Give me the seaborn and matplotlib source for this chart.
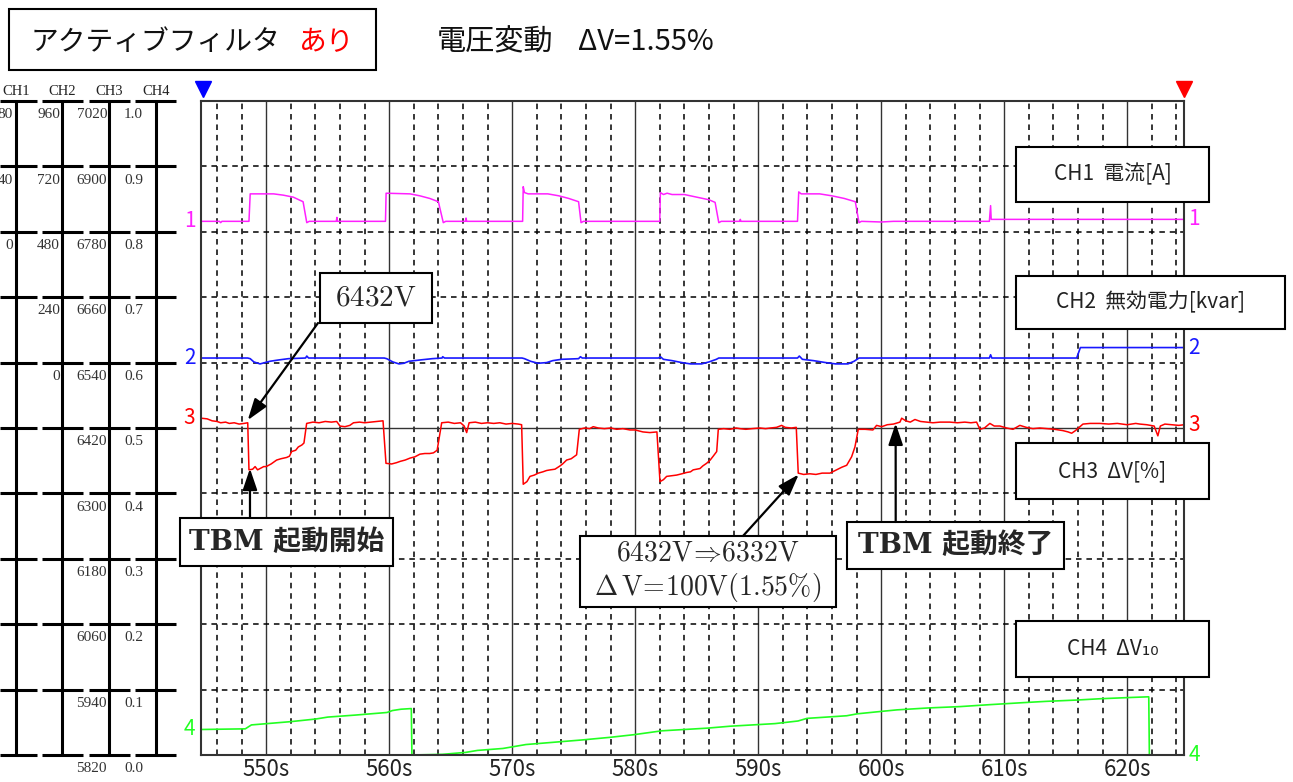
import seaborn as sns
import matplotlib.pyplot as plt
from matplotlib.patches import Rectangle

W, H = 1293, 782

# --- recorder data: time [s] vs normalised screen value (0..1 = 10 divisions)
# CH1 current (magenta)
ch1_t = [544.70, 546.2, 546.3, 546.4, 548.6, 548.7, 550.6, 551.4, 552.2, 553.0, 553.3, 553.5,
         555.7, 555.75, 555.8, 559.7, 559.75, 561.7, 562.5, 563.3, 564.0, 564.4, 564.6,
         566.2, 566.25, 566.3, 570.85, 570.9, 571.0, 571.3, 572.9, 573.8, 574.6, 575.4, 575.6, 575.8,
         582.0, 582.05, 582.3, 582.6, 583.0, 584.0, 585.0, 586.0, 586.5, 586.8, 587.0,
         588.5, 588.55, 588.6, 593.2, 593.3, 593.5, 595.0, 596.0, 597.0, 597.9, 598.2, 598.4,
         600.0, 601.0, 608.8, 608.9, 608.95, 624.64]
ch1_v = [0.816, 0.816, 0.814, 0.816, 0.816, 0.858, 0.858, 0.856, 0.853, 0.846, 0.814, 0.816,
         0.816, 0.822, 0.816, 0.816, 0.859, 0.858, 0.855, 0.851, 0.846, 0.814, 0.816,
         0.816, 0.821, 0.816, 0.816, 0.869, 0.860, 0.858, 0.858, 0.855, 0.851, 0.846, 0.814, 0.816,
         0.816, 0.860, 0.857, 0.859, 0.857, 0.857, 0.853, 0.849, 0.845, 0.814, 0.816,
         0.816, 0.819, 0.816, 0.816, 0.861, 0.858, 0.858, 0.855, 0.851, 0.846, 0.814, 0.816,
         0.815, 0.816, 0.816, 0.840, 0.819, 0.819]

# CH2 reactive power (blue)
ch2_t = [544.70, 548.5, 548.7, 549.0, 549.5, 549.9, 550.3, 551.0, 551.8, 553.2, 553.3, 553.45,
         559.6, 559.8, 560.3, 560.8, 561.2, 561.6, 562.5, 563.5, 564.3, 564.35, 564.5,
         570.8, 571.0, 571.5, 572.1, 572.8, 573.3, 574.0, 575.4, 575.55, 575.7,
         581.9, 582.05, 582.3, 583.0, 583.8, 584.5, 585.4, 586.0, 586.6, 586.8,
         593.2, 593.35, 593.6, 594.5, 595.5, 596.3, 597.3, 597.8, 598.2,
         608.8, 608.9, 609.0, 615.9, 616.2, 624.64]
ch2_v = [0.607, 0.607, 0.606, 0.601, 0.598, 0.600, 0.602, 0.604, 0.606, 0.607, 0.610, 0.607,
         0.607, 0.606, 0.601, 0.598, 0.599, 0.602, 0.604, 0.606, 0.607, 0.609, 0.607,
         0.607, 0.606, 0.602, 0.599, 0.600, 0.603, 0.605, 0.606, 0.609, 0.607,
         0.607, 0.609, 0.605, 0.603, 0.600, 0.598, 0.598, 0.601, 0.605, 0.607,
         0.607, 0.610, 0.605, 0.603, 0.600, 0.598, 0.598, 0.602, 0.607,
         0.607, 0.612, 0.607, 0.607, 0.623, 0.623]

# CH3 voltage deviation (red)
ch3_t = [544.70, 545.2, 545.6, 546.0, 546.3, 546.7, 547.0, 547.4, 547.8, 548.2, 548.5,
         548.6, 548.9, 549.1, 549.3, 549.5, 549.8, 550.0, 550.4, 550.85, 551.2, 551.67, 551.9,
         552.07, 552.4, 552.61, 552.9, 553.07, 553.29, 553.8, 554.3, 554.8, 555.3, 555.73,
         556.0, 556.4, 556.8, 557.1, 557.6, 558.0, 558.5, 559.0, 559.5, 559.74, 560.2, 560.6,
         560.9, 561.3, 561.7, 562.1, 562.5, 562.9, 563.3, 563.6, 563.9, 564.27, 564.8, 565.3,
         565.8, 566.1, 566.3, 566.5, 567.0, 567.5, 568.0, 568.5, 569.0, 569.5, 570.0, 570.5,
         570.77, 570.9, 571.2, 571.45, 571.8, 572.12, 572.5, 572.8, 573.1, 573.48, 573.89,
         574.1, 574.43, 574.8, 575.24, 575.46, 575.9, 576.3, 576.59, 577.0, 577.5, 578.0,
         578.5, 579.0, 579.58, 580.0, 580.63, 581.2, 581.77, 582.02, 582.3, 582.56, 583.0,
         583.37, 583.8, 584.19, 584.5, 584.72, 585.0, 585.27, 585.5, 585.81, 586.1, 586.35,
         586.63, 586.76, 587.2, 587.7, 588.2, 588.52, 589.0, 589.5, 590.15, 590.6, 591.0,
         591.5, 591.91, 592.2, 592.7, 593.1, 593.26, 593.7, 594.2, 594.7, 595.2, 595.84,
         596.38, 596.8, 597.20, 597.60, 597.87, 598.14, 598.7, 599.33, 599.63, 600.04, 600.5,
         601.0, 601.53, 601.67, 602.0, 602.37, 602.75, 603.2, 603.7, 604.21, 604.8, 605.59,
         606.2, 606.8, 607.3, 607.76, 608.03, 608.4, 608.84, 609.2, 609.66, 610.2, 610.72,
         611.28, 611.8, 612.34, 612.9, 613.5, 614.1, 614.78, 615.2, 615.49, 615.8, 616.41,
         617.0, 617.79, 618.5, 619.2, 620.0, 620.7, 621.04, 621.6, 622.2, 622.5, 622.7,
         623.07, 623.6, 624.2, 624.64]
ch3_v = [0.515, 0.514, 0.511, 0.510, 0.508, 0.509, 0.507, 0.508, 0.506, 0.507, 0.508,
         0.436, 0.437, 0.441, 0.436, 0.438, 0.441, 0.441, 0.445, 0.451, 0.453, 0.455, 0.457,
         0.464, 0.466, 0.471, 0.474, 0.477, 0.507, 0.509, 0.508, 0.510, 0.509, 0.510,
         0.503, 0.502, 0.504, 0.508, 0.509, 0.508, 0.509, 0.510, 0.511, 0.446, 0.445, 0.447,
         0.449, 0.451, 0.454, 0.456, 0.460, 0.461, 0.461, 0.462, 0.466, 0.508, 0.509, 0.507,
         0.508, 0.503, 0.493, 0.508, 0.509, 0.507, 0.508, 0.507, 0.508, 0.506, 0.507, 0.506,
         0.505, 0.414, 0.418, 0.426, 0.428, 0.431, 0.433, 0.435, 0.436, 0.437, 0.442,
         0.445, 0.451, 0.453, 0.459, 0.498, 0.500, 0.499, 0.502, 0.500, 0.499, 0.500,
         0.498, 0.499, 0.497, 0.497, 0.494, 0.493, 0.494, 0.418, 0.421, 0.426, 0.427,
         0.428, 0.430, 0.432, 0.433, 0.436, 0.437, 0.438, 0.442, 0.446, 0.451, 0.457,
         0.464, 0.498, 0.499, 0.498, 0.500, 0.499, 0.498, 0.499, 0.500, 0.499, 0.500,
         0.501, 0.504, 0.501, 0.500, 0.501, 0.431, 0.429, 0.430, 0.429, 0.431, 0.431,
         0.436, 0.440, 0.443, 0.456, 0.471, 0.498, 0.498, 0.497, 0.504, 0.502, 0.505,
         0.506, 0.509, 0.515, 0.511, 0.509, 0.513, 0.510, 0.509, 0.508, 0.509, 0.509,
         0.508, 0.509, 0.508, 0.509, 0.498, 0.500, 0.507, 0.503, 0.503, 0.500, 0.498,
         0.504, 0.501, 0.499, 0.500, 0.499, 0.498, 0.496, 0.494, 0.492, 0.496, 0.506,
         0.507, 0.507, 0.506, 0.507, 0.505, 0.507, 0.506, 0.505, 0.503, 0.488, 0.503,
         0.506, 0.505, 0.504, 0.505]

# CH4 delta V10 (green)
ch4_t = [544.70, 548.30, 548.80, 551.99, 554.02, 555.02, 557.22, 559.82, 560.27, 560.96,
         561.80, 561.85, 564.33, 566.22, 567.18, 569.25, 571.12, 575.67, 577.95, 579.87,
         582.18, 585.82, 587.71, 591.37, 593.24, 593.97, 597.20, 598.07, 599.66, 601.28,
         603.89, 606.41, 608.85, 611.50, 613.40, 615.88, 617.79, 620.34, 621.76, 621.81, 624.64]
ch4_v = [0.039, 0.040, 0.046, 0.051, 0.055, 0.058, 0.061, 0.065, 0.068, 0.070,
         0.071, 0.0, 0.001, 0.004, 0.007, 0.010, 0.016, 0.023, 0.027, 0.031,
         0.037, 0.041, 0.044, 0.048, 0.052, 0.056, 0.060, 0.063, 0.066, 0.069,
         0.072, 0.074, 0.077, 0.080, 0.082, 0.084, 0.086, 0.088, 0.089, 0.0, 0.0]

cursor_t = [544.85, 624.65]

# scale labels on the left (CH1 column is cut by the picture edge)
levels = [1.0, 0.9, 0.8, 0.7, 0.6, 0.5, 0.4, 0.3, 0.2, 0.1, 0.0]
ch1_labels = ['80', '40', '0']
ch2_labels = ['960', '720', '480', '240', '0']
ch3_labels = ['7020', '6900', '6780', '6660', '6540', '6420', '6300', '6180', '6060', '5940', '5820']
ch4_labels = ['1.0', '0.9', '0.8', '0.7', '0.6', '0.5', '0.4', '0.3', '0.2', '0.1', '0.0']
xtick_vals = [550, 560, 570, 580, 590, 600, 610, 620]
xtick_labels = [f'{v}s' for v in xtick_vals]

c1, c2, c3, c4 = '#ff20ff', '#1818ff', '#ff0000', '#22ff22'

sns.set_theme(style='white')
plt.rcParams['font.family'] = ['Noto Sans CJK JP', 'DejaVu Sans']
plt.rcParams['mathtext.fontset'] = 'cm'
plt.rcParams['lines.scale_dashes'] = False

fig = plt.figure(figsize=(W / 100, H / 100), dpi=100)
fig.patch.set_facecolor('white')

# main recorder area
ax = fig.add_axes([201 / W, (H - 755) / H, 983.3 / W, 654 / H], zorder=1)
ax.set_xlim(544.7, 624.65)
ax.set_ylim(0, 1)
ax.set_facecolor('white')

for t in range(546, 625, 2):
    if t % 10 == 0:
        ax.axvline(t, color='#333333', lw=1.0, zorder=0.5)
    else:
        ax.axvline(t, color='black', lw=1.1, ls=(0, (4, 3.5)), zorder=0.5)
for lv in levels[1:-1]:
    if lv == 0.5:
        ax.axhline(lv, color='#333333', lw=1.0, zorder=0.5)
    else:
        ax.axhline(lv, color='black', lw=1.1, ls=(0, (4, 3.5)), zorder=0.5)

sns.lineplot(x=ch1_t, y=ch1_v, ax=ax, color=c1, lw=1.1, estimator=None, sort=False)
sns.lineplot(x=ch2_t, y=ch2_v, ax=ax, color=c2, lw=1.2, estimator=None, sort=False)
sns.lineplot(x=ch3_t, y=ch3_v, ax=ax, color=c3, lw=1.1, estimator=None, sort=False)
sns.lineplot(x=ch4_t, y=ch4_v, ax=ax, color=c4, lw=1.2, estimator=None, sort=False)

for sp in ax.spines.values():
    sp.set_color('#333333')
    sp.set_linewidth(1.5)
ax.set_xticks(xtick_vals, xtick_labels)
ax.set_yticks([])
ax.tick_params(axis='x', length=0, pad=2, labelsize=16, colors='#222222')
ax.set_xlabel('')
ax.set_ylabel('')

# channel numbers at both ends of each trace
for num, (tt, vv, col) in enumerate([(ch1_t, ch1_v, c1), (ch2_t, ch2_v, c2),
                                     (ch3_t, ch3_v, c3), (ch4_t, ch4_v, c4)], start=1):
    ax.annotate(str(num), xy=(tt[0], vv[0]), xytext=(-4, 0), textcoords='offset points',
                ha='right', va='center', color=col, fontsize=15, annotation_clip=False)
    ax.annotate(str(num), xy=(tt[-1], vv[-1]), xytext=(3, 0), textcoords='offset points',
                ha='left', va='center', color=col, fontsize=15, annotation_clip=False)

# cursors
ax.plot([cursor_t[0]], [1.018], marker='v', ms=12, color='#0000ff', clip_on=False, ls='none')
ax.plot([cursor_t[1]], [1.018], marker='v', ms=12, color='#ff0000', clip_on=False, ls='none')

# left scale panel
lp = fig.add_axes([0, (H - 755) / H, 176 / W, 654 / H], zorder=1)
lp.set_xlim(0, 176)
lp.set_ylim(0, 1)
lp.axis('off')
col_x = [15.7, 62.3, 109, 155.7]
segs = [(0, 36.7), (42.3, 83.3), (89.3, 130), (135, 176)]
lp.vlines(col_x, 0, 1, color='black', lw=2.2, clip_on=False)
for lv in levels:
    for a, b in segs:
        lp.hlines(lv, a, b, color='black', lw=2.2, clip_on=False)
for i, name in enumerate(['CH1', 'CH2', 'CH3', 'CH4']):
    lp.text(col_x[i], 1.004, name, ha='center', va='bottom', fontsize=10.5,
            family='Liberation Serif', color='#222222')
lab_kw = dict(va='center', fontsize=11, family='Liberation Serif', color='#333333', clip_on=False)
for lv, s in zip(levels, ch1_labels):
    lp.text(13, lv - 0.021, s, ha='right', **lab_kw)
for lv, s in zip(levels, ch2_labels):
    lp.text(60, lv - 0.021, s, ha='right', **lab_kw)
for lv, s in zip(levels, ch3_labels):
    lp.text(107, lv - 0.021, s, ha='right', **lab_kw)
for lv, s in zip(levels, ch4_labels):
    lp.text(124, lv - 0.021, s, ha='left', **lab_kw)

# overlay in pixel coordinates for boxes, titles and arrows
ov = fig.add_axes([0, 0, 1, 1], zorder=5)
ov.set_xlim(0, W)
ov.set_ylim(H, 0)
ov.axis('off')


def box(x0, y0, x1, y1, fill=True):
    ov.add_patch(Rectangle((x0, y0), x1 - x0, y1 - y0, facecolor='white' if fill else 'none',
                           edgecolor='black', lw=1.5, zorder=3))


box(9, 9, 376, 70, fill=False)
ov.text(31, 42, 'アクティブフィルタ', ha='left', va='center', fontsize=20, color='#111111')
ov.text(299, 42, 'あり', ha='left', va='center', fontsize=20, color='#ff0000')
ov.text(437, 42, '電圧変動', ha='left', va='center', fontsize=21, color='#111111')
ov.text(578, 42, 'ΔV=1.55%', ha='left', va='center', fontsize=21, color='#111111')

ch_boxes = [((1016, 147, 1209, 202), 'CH1  電流[A]'),
            ((1016, 276, 1285, 329), 'CH2  無効電力[kvar]'),
            ((1016, 443, 1209, 499), 'CH3  ΔV[%]'),
            ((1016, 621, 1209, 677), 'CH4  ΔV₁₀')]
for (x0, y0, x1, y1), s in ch_boxes:
    box(x0, y0, x1, y1)
    ov.text((x0 + x1) / 2, (y0 + y1) / 2, s, ha='center', va='center', fontsize=15,
            color='#222222', zorder=4)

arrow_kw = dict(arrowstyle='-|>,head_length=0.65,head_width=0.22', color='black', lw=1.6,
                shrinkA=0, shrinkB=0, mutation_scale=20)

# 6432V
box(320, 273, 432, 323)
ov.text(376, 298, r'$\mathrm{6432V}$', ha='center', va='center', fontsize=21, zorder=4)
ov.annotate('', xy=(548.5, 0.512), xycoords=ax.transData, xytext=(318, 323),
            textcoords='data', arrowprops=arrow_kw, zorder=4)

# TBM start
box(180, 518, 393, 566)
ov.text(286.5, 542, 'TBM 起動開始', ha='center', va='center', fontsize=20, weight='bold',
        family=['DejaVu Serif', 'Noto Sans CJK JP'], zorder=4)
ov.annotate('', xy=(548.68, 0.438), xycoords=ax.transData, xytext=(250, 518),
            textcoords='data', arrowprops=arrow_kw, zorder=4)

# TBM end
box(847, 522, 1064, 569)
ov.text(955.5, 545.5, 'TBM 起動終了', ha='center', va='center', fontsize=20, weight='bold',
        family=['DejaVu Serif', 'Noto Sans CJK JP'], zorder=4)
ov.annotate('', xy=(601.18, 0.507), xycoords=ax.transData, xytext=(895.7, 522),
            textcoords='data', arrowprops=arrow_kw, zorder=4)

# voltage drop
box(580, 536, 836, 607)
ov.text(708, 553, r'$\mathrm{6432V}\!\Rightarrow\!\mathrm{6332V}$', ha='center', va='center',
        fontsize=20, zorder=4)
ov.text(708, 588, r'$\Delta\,\mathrm{V}\!=\!\mathrm{100V(1.55\%)}$', ha='center',
        va='center', fontsize=20, zorder=4)
ov.annotate('', xy=(593.3, 0.429), xycoords=ax.transData, xytext=(743, 536),
            textcoords='data', arrowprops=arrow_kw, zorder=4)

fig.savefig('out.png', dpi=100)
